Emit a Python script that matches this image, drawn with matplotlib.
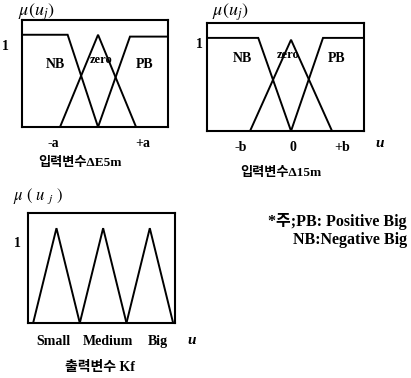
import matplotlib.pyplot as plt

plt.rcParams['mathtext.fontset'] = 'stix'
FAM = ['Liberation Serif', 'Noto Sans CJK KR']

# input 1 (dE5m) membership functions, u in units of a
in1_nb_u = [-2.0, -0.8, 0.0]
in1_nb_m = [1.0, 1.0, 0.0]
in1_zero_u = [-1.0, 0.0, 1.0]
in1_zero_m = [0.0, 1.0, 0.0]
in1_pb_u = [0.0, 0.84, 1.84]
in1_pb_m = [0.0, 0.98, 0.98]
in1_ticks = [-1.18, 1.18]
in1_ticklabels = ['-a', '+a']

# input 2 (d15m), u in units of b
in2_nb_u = [-2.05, -0.8, 0.0]
in2_nb_m = [1.0, 1.0, 0.0]
in2_zero_u = [-1.0, 0.0, 1.0]
in2_zero_m = [0.0, 0.98, 0.0]
in2_pb_u = [0.0, 0.78, 1.78]
in2_pb_m = [0.0, 1.0, 1.0]
in2_ticks = [-1.24, 0.05, 1.24]
in2_ticklabels = ['-b', '0', '+b']

# output Kf
out_u = [[0, 0.5, 1], [1, 1.5, 2], [2, 2.5, 3]]
out_m = [[0, 1, 0], [0, 1, 0], [0, 1, 0]]
out_ticks = [0.43, 1.6, 2.68]
out_ticklabels = ['Small', 'Medium', 'Big']

W, H = 411, 378
fig = plt.figure(figsize=(W / 100, H / 100), dpi=100)


def px_axes(x0, y0, x1, y1):
    return fig.add_axes([x0 / W, 1 - y1 / H, (x1 - x0) / W, (y1 - y0) / H])


def px_text(x, y, s, **kw):
    kw.setdefault('family', FAM)
    kw.setdefault('weight', 'bold')
    kw.setdefault('ha', 'center')
    kw.setdefault('va', 'center')
    fig.text(x / W, 1 - y / H, s, **kw)


def style(ax, xlim, ticks, labels, pad):
    ax.set_xlim(*xlim)
    ax.set_ylim(0, 1.16)
    ax.set_yticks([])
    ax.set_xticks(ticks)
    ax.set_xticklabels(labels, family=FAM, weight='bold', fontsize=10)
    ax.tick_params(axis='x', length=0, pad=pad)
    for lab in ax.get_xticklabels():
        lab.set_verticalalignment('center_baseline')
    for sp in ax.spines.values():
        sp.set_linewidth(1.5)


lw = 1.4

ax1 = px_axes(22, 20, 168, 127)
for u, m in [(in1_nb_u, in1_nb_m), (in1_zero_u, in1_zero_m), (in1_pb_u, in1_pb_m)]:
    ax1.plot(u, m, color='black', lw=lw, solid_joinstyle='miter')
style(ax1, (-2.0, 1.84), in1_ticks, in1_ticklabels, 11)

ax2 = px_axes(207, 23, 364, 131)
for u, m in [(in2_nb_u, in2_nb_m), (in2_zero_u, in2_zero_m), (in2_pb_u, in2_pb_m)]:
    ax2.plot(u, m, color='black', lw=lw, solid_joinstyle='miter')
style(ax2, (-2.05, 1.78), in2_ticks, in2_ticklabels, 11)

ax3 = px_axes(28, 213, 175, 323)
for u, m in zip(out_u, out_m):
    ax3.plot(u, m, color='black', lw=lw, solid_joinstyle='miter')
style(ax3, (-0.11, 3.04), out_ticks, out_ticklabels, 12)

# y-axis titles and "1" marks
px_text(36, 12, r'$\mu(u_{j})$', fontsize=13)
px_text(230, 12, r'$\mu(u_{j})$', fontsize=13)
px_text(38, 196, r'$\mu\ (\ u\ _{j}\ )$', fontsize=12)
px_text(5, 47, '1', fontsize=10)
px_text(199, 45, '1', fontsize=10)
px_text(17, 243, '1', fontsize=10)

# set names
px_text(55, 65, 'NB', fontsize=10)
px_text(101, 60, 'zero', fontsize=9)
px_text(145, 65, 'PB', fontsize=10)
px_text(242, 58, 'NB', fontsize=10)
px_text(288, 55, 'zero', fontsize=9)
px_text(337, 58, 'PB', fontsize=10)

# u axis marks
px_text(380, 143, 'u', style='italic', fontsize=11)
px_text(192, 340, 'u', style='italic', fontsize=11)

# captions
px_text(80, 163, '입력변수ΔE5m', fontsize=9.5)
px_text(281, 173, '입력변수Δ15m', fontsize=9.5)
px_text(100, 368, '출력변수 Kf', fontsize=10)

# note
px_text(407, 222, '*주;PB: Positive Big', ha='right', fontsize=11.5)
px_text(407, 240, 'NB:Negative Big', ha='right', fontsize=11.5)

fig.savefig('out.png', dpi=100)
